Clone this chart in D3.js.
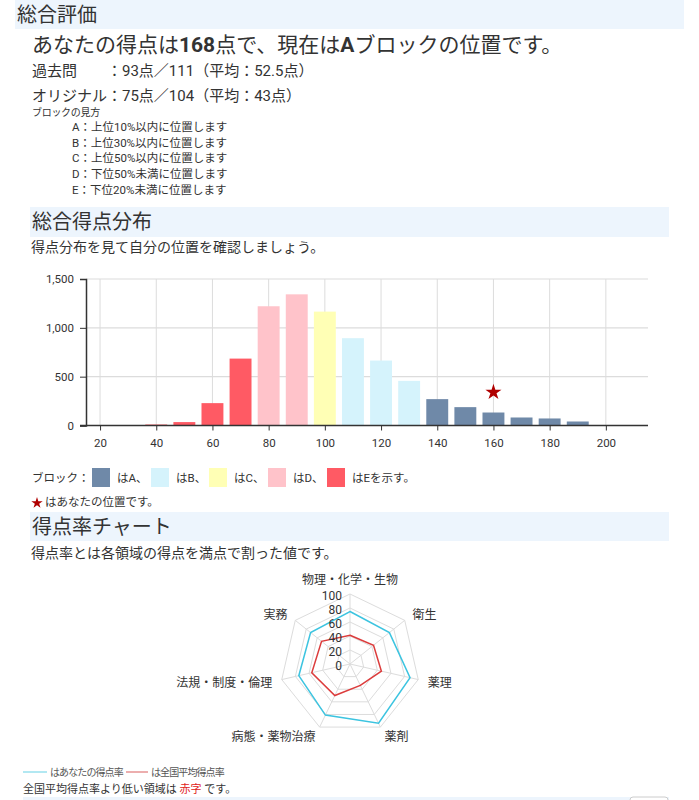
<!DOCTYPE html>
<html>
<head>
<meta charset="utf-8">
<title>総合評価</title>
<script src="https://d3js.org/d3.v7.min.js" charset="utf-8"></script>
<style>
  html, body { margin: 0; padding: 0; background: #fff; }
  svg text { font-family: Roboto, "Noto Sans CJK JP", sans-serif; fill: #333; }
</style>
</head>
<body>
<div id="page"></div>
<script>
// score distribution (bin centre -> number of people)
const bins = [40, 50, 60, 70, 80, 90, 100, 110, 120, 130, 140, 150, 160, 170, 180, 190, 200, 210];
const counts = [10, 35, 229, 685, 1221, 1343, 1166, 894, 665, 457, 270, 188, 133, 82, 72, 41, 5, 3];
const blocks = ["E", "E", "E", "E", "D", "D", "C", "B", "B", "B", "A", "A", "A", "A", "A", "A", "A", "A"];
const xTicks = [20, 40, 60, 80, 100, 120, 140, 160, 180, 200];
const yTicks = [0, 500, 1000, 1500];
const myBin = 160;
const myMarkY = 340;

const blockNames = ["A", "B", "C", "D", "E"];
const blockColors = ["#6f89a8", "#d5f3fc", "#ffffb5", "#ffc3ca", "#ff5a64"];

// radar
const radarAxes = ["物理・化学・生物", "衛生", "薬理", "薬剤", "病態・薬物治療", "法規・制度・倫理", "実務"];
const yourRates = [75, 72, 88, 94, 81, 75, 72];
const avgRates = [41, 43, 46, 34, 50, 56, 52];
const radarTicks = [0, 20, 40, 60, 80, 100];

const blockRules = [
  "A：上位10%以内に位置します",
  "B：上位30%以内に位置します",
  "C：上位50%以内に位置します",
  "D：下位50%未満に位置します",
  "E：下位20%未満に位置します"
];

const W = 699, H = 800;
const svg = d3.select("#page").append("svg").attr("width", W).attr("height", H);

// section header bands
function band(x, y, w, h, label) {
  svg.append("rect").attr("x", x).attr("y", y).attr("width", w).attr("height", h).attr("fill", "#edf5fd");
  svg.append("text").attr("x", x + 2).attr("y", y + h / 2).attr("dy", "0.36em")
    .style("font-size", "20px").style("fill", "#333").text(label);
}

// ---- 総合評価 ----
band(15, 0, 669, 29, "総合評価");

const head = svg.append("text").attr("x", 32).attr("y", 52).style("font-size", "21px");
head.append("tspan").text("あなたの得点は");
head.append("tspan").style("font-weight", "bold").text("168");
head.append("tspan").text("点で、現在は");
head.append("tspan").style("font-weight", "bold").text("A");
head.append("tspan").text("ブロックの位置です。");

svg.append("text").attr("x", 32).attr("y", 76).style("font-size", "15px").attr("xml:space", "preserve")
  .text("過去問　　：93点／111（平均：52.5点）");
svg.append("text").attr("x", 32).attr("y", 101).style("font-size", "15px")
  .text("オリジナル：75点／104（平均：43点）");
svg.append("text").attr("x", 32).attr("y", 116).style("font-size", "10px").style("letter-spacing", "-0.3px")
  .text("ブロックの見方");
svg.selectAll(".rule").data(blockRules).enter().append("text")
  .attr("class", "rule")
  .attr("x", 72)
  .attr("y", (d, i) => 131 + i * 15.7)
  .style("font-size", "11.5px")
  .text(d => d);

// ---- 総合得点分布 ----
band(30, 207, 639, 30, "総合得点分布");
svg.append("text").attr("x", 31).attr("y", 252).style("font-size", "14px")
  .text("得点分布を見て自分の位置を確認しましょう。");

const x = d3.scaleLinear().domain([15, 215]).range([86, 648]);
const y = d3.scaleLinear().domain([0, 1500]).range([425.5, 279]);
const color = d3.scaleOrdinal().domain(blockNames).range(blockColors);

const chart = svg.append("g");

// grid
chart.selectAll(".vgrid").data(xTicks).enter().append("line")
  .attr("x1", d => x(d)).attr("x2", d => x(d))
  .attr("y1", y(1500)).attr("y2", y(0))
  .attr("stroke", "#dcdcdc").attr("stroke-width", 1);
chart.selectAll(".hgrid").data(yTicks).enter().append("line")
  .attr("x1", x(15)).attr("x2", x(215))
  .attr("y1", d => y(d)).attr("y2", d => y(d))
  .attr("stroke", "#dcdcdc").attr("stroke-width", 1.2);

// bars
const bw = x(7.8) - x(0);
chart.selectAll(".bar").data(bins).enter().append("rect")
  .attr("x", d => x(d) - bw / 2)
  .attr("y", (d, i) => y(counts[i]))
  .attr("width", bw)
  .attr("height", (d, i) => y(0) - y(counts[i]))
  .attr("fill", (d, i) => color(blocks[i]));

// axes
const yAxis = chart.append("g").attr("transform", `translate(${x(15)},0)`)
  .call(d3.axisLeft(y).tickValues(yTicks).tickFormat(d3.format(",")).tickSize(6).tickPadding(6));
const xAxis = chart.append("g").attr("transform", `translate(0,${y(0)})`)
  .call(d3.axisBottom(x).tickValues(xTicks).tickSize(5).tickPadding(8));
[yAxis, xAxis].forEach(a => {
  a.select(".domain").attr("stroke", "#333").attr("stroke-width", 1.5);
  a.selectAll(".tick line").attr("stroke", "#333");
  a.selectAll(".tick text").style("font-size", "11.5px").style("fill", "#333")
    .style("font-family", "Roboto, sans-serif");
});
xAxis.select(".domain").attr("d", `M${x(15) - 6},0H${x(215)}`);

// your position
chart.append("path")
  .attr("d", d3.symbol(d3.symbolStar, 80)())
  .attr("transform", `translate(${x(myBin)},${y(myMarkY)})`)
  .attr("fill", "#b00000");

// legend
svg.append("text").attr("x", 32).attr("y", 478).attr("dy", "0.35em").style("font-size", "11.5px").text("ブロック：");
const legX = [92, 151, 209, 268, 327];
const legText = ["はA、", "はB、", "はC、", "はD、", "はEを示す。"];
blockNames.forEach((b, i) => {
  svg.append("rect").attr("x", legX[i]).attr("y", 468).attr("width", 18).attr("height", 19).attr("fill", color(b));
  svg.append("text").attr("x", legX[i] + 25).attr("y", 478).attr("dy", "0.35em")
    .style("font-size", "11.5px").text(legText[i]);
});
svg.append("path").attr("d", d3.symbol(d3.symbolStar, 40)())
  .attr("transform", "translate(37,503)").attr("fill", "#b00000");
svg.append("text").attr("x", 45).attr("y", 502).attr("dy", "0.35em").style("font-size", "11.5px")
  .text("はあなたの位置です。");

// ---- 得点率チャート ----
band(30, 512, 639, 29, "得点率チャート");
svg.append("text").attr("x", 31).attr("y", 558).style("font-size", "14px")
  .text("得点率とは各領域の得点を満点で割った値です。");

const cx = 350, cy = 664, R = 70;
const n = radarAxes.length;
const ang = d3.scaleLinear().domain([0, n]).range([0, 2 * Math.PI]);
const r = d3.scaleLinear().domain([0, 100]).range([0, R]);
const radar = svg.append("g").attr("transform", `translate(${cx},${cy})`);
const pt = (i, v) => [Math.sin(ang(i)) * r(v), -Math.cos(ang(i)) * r(v)];

// rings
const ringLine = d3.line().curve(d3.curveLinearClosed);
radar.selectAll(".ring").data(radarTicks.slice(1)).enter().append("path")
  .attr("d", v => ringLine(d3.range(n).map(i => pt(i, v))))
  .attr("fill", "none").attr("stroke", "#dcdcdc").attr("stroke-width", 1);
radar.selectAll(".spoke").data(d3.range(n)).enter().append("line")
  .attr("x1", 0).attr("y1", 0)
  .attr("x2", i => pt(i, 100)[0]).attr("y2", i => pt(i, 100)[1])
  .attr("stroke", "#dcdcdc").attr("stroke-width", 1);

// series
radar.append("path").attr("d", ringLine(yourRates.map((v, i) => pt(i, v))))
  .attr("fill", "none").attr("stroke", "#3cc4e0").attr("stroke-width", 1.5);
radar.append("path").attr("d", ringLine(avgRates.map((v, i) => pt(i, v))))
  .attr("fill", "none").attr("stroke", "#dc3c3c").attr("stroke-width", 1.5);

// scale labels
radar.selectAll(".rtick").data(radarTicks).enter().append("text")
  .attr("x", -8).attr("y", v => -r(v) + 2).attr("dy", "0.35em")
  .attr("text-anchor", "end")
  .style("font-size", "12px").style("font-family", "Roboto, sans-serif")
  .text(v => v);

// axis labels
radar.selectAll(".alabel").data(radarAxes).enter().append("text")
  .attr("x", (d, i) => pt(i, 114)[0])
  .attr("y", (d, i) => i === 0 ? pt(i, 116)[1] - 3 : pt(i, 114)[1] + 1)
  .attr("dy", "0.35em")
  .attr("text-anchor", (d, i) => {
    const px = pt(i, 100)[0];
    return px > 5 ? "start" : px < -5 ? "end" : "middle";
  })
  .style("font-size", "12px")
  .text(d => d);

// radar legend
svg.append("line").attr("x1", 23).attr("x2", 47).attr("y1", 772).attr("y2", 772)
  .attr("stroke", "#7fd8ea").attr("stroke-width", 1.2);
svg.append("text").attr("x", 50).attr("y", 772).attr("dy", "0.35em")
  .style("font-size", "10px").style("letter-spacing", "-0.9px").style("fill", "#555")
  .text("はあなたの得点率");
svg.append("line").attr("x1", 126).attr("x2", 148).attr("y1", 772).attr("y2", 772)
  .attr("stroke", "#e07878").attr("stroke-width", 1.2);
svg.append("text").attr("x", 151).attr("y", 772).attr("dy", "0.35em")
  .style("font-size", "10px").style("letter-spacing", "-0.9px").style("fill", "#555")
  .text("は全国平均得点率");
const note = svg.append("text").attr("x", 23).attr("y", 789).attr("dy", "0.35em")
  .style("font-size", "11px").attr("xml:space", "preserve");
note.append("tspan").text("全国平均得点率より低い領域は ");
note.append("tspan").style("fill", "#e02020").text("赤字");
note.append("tspan").text(" です。");

// next section starts at the bottom edge
svg.append("rect").attr("x", 23).attr("y", 797).attr("width", 646).attr("height", 3).attr("fill", "#edf5fd");
svg.append("rect").attr("x", 630).attr("y", 797).attr("width", 38).attr("height", 10).attr("rx", 3)
  .attr("fill", "#fff").attr("stroke", "#ccc");
</script>
</body>
</html>
